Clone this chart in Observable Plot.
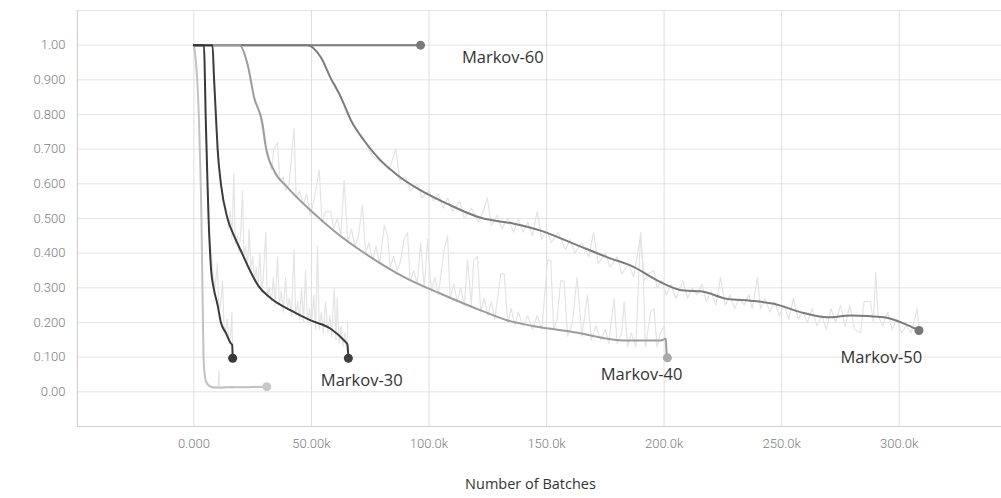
<!DOCTYPE html>
<html>
<head>
<meta charset="utf-8">
<script src="https://cdn.jsdelivr.net/npm/d3@7"></script>
<script src="https://cdn.jsdelivr.net/npm/@observablehq/plot@0.6"></script>
<style>
  html, body { margin: 0; padding: 0; background: #fff; }
</style>
</head>
<body>
<div id="chart"></div>
<script>
// ---------- axis ticks (x in thousands of batches) ----------
const xTicks = [0, 50, 100, 150, 200, 250, 300];
const xTickLabels = ["0.000", "50.00k", "100.0k", "150.0k", "200.0k", "250.0k", "300.0k"];
const yTicks = [0, 0.1, 0.2, 0.3, 0.4, 0.5, 0.6, 0.7, 0.8, 0.9, 1.0];
const yTickLabels = ["0.00", "0.100", "0.200", "0.300", "0.400", "0.500", "0.600", "0.700", "0.800", "0.900", "1.00"];
const yGrid = [-0.1, 0, 0.1, 0.2, 0.3, 0.4, 0.5, 0.6, 0.7, 0.8, 0.9, 1.0, 1.1];
const xDomain = [-49.5, 343.5];
const yDomain = [-0.1, 1.1];

// ---------- smoothed series ----------
const m10X = [0, 0.6, 1.8, 3.3, 4.1, 4.8, 5.5, 8, 12, 16, 20, 25, 31];
const m10Y = [1.0, 0.97, 0.85, 0.465, 0.10, 0.04, 0.024, 0.013, 0.012, 0.014, 0.013, 0.014, 0.015];

const m20X = [0, 4.3, 4.7, 5.0, 5.4, 5.8, 6.25, 6.9, 7.35, 8.4, 10.1, 11.5, 13.6, 15.7, 16.3, 16.5];
const m20Y = [1.0, 1.0, 0.9, 0.8, 0.7, 0.6, 0.5, 0.4, 0.35, 0.3, 0.25, 0.2, 0.17, 0.14, 0.135, 0.097];

const m30X = [0, 7.9, 8.6, 9.35, 10.1, 11.5, 14.3, 17.1, 20.8, 24.2, 27.5, 32.7, 41.2, 49.7, 58.2, 63.9, 65.3, 65.7];
const m30Y = [1.0, 1.0, 0.9, 0.8, 0.7, 0.6, 0.5, 0.45, 0.395, 0.345, 0.305, 0.27, 0.235, 0.206, 0.182, 0.148, 0.137, 0.097];

const m40X = [0, 19.3, 22.8, 25.6, 29.2, 30.6, 34.1, 39.8, 49.7, 61.1, 75.3, 89.4, 105, 122, 133.4, 147.5, 161.7, 183, 198.6, 200.7, 201.1, 201.4];
const m40Y = [1.0, 1.0, 0.946, 0.85, 0.773, 0.706, 0.638, 0.59, 0.523, 0.456, 0.388, 0.331, 0.283, 0.235, 0.206, 0.186, 0.172, 0.148, 0.148, 0.153, 0.11, 0.098];

const m50X = [0, 48.3, 54, 58.2, 62.5, 66.8, 72.4, 78.1, 86.6, 96.5, 107.9, 122, 136.2, 147.5, 161.7, 175.9, 187.2, 197.2, 208.5, 215.6, 226.9, 236.7, 246.7, 257.9, 269.4, 279.3, 293.5, 304, 308.4];
const m50Y = [1.0, 1.0, 0.965, 0.905, 0.85, 0.783, 0.725, 0.677, 0.625, 0.581, 0.542, 0.502, 0.485, 0.465, 0.427, 0.388, 0.36, 0.321, 0.292, 0.29, 0.268, 0.263, 0.254, 0.23, 0.215, 0.22, 0.215, 0.191, 0.177];

const m60X = [0, 96.4];
const m60Y = [1.0, 1.0];

// ---------- raw (unsmoothed) series ----------
const r10X = [5.5, 7, 8.5, 10.2, 10.6, 11, 13, 16, 19, 22, 25, 28, 31];
const r10Y = [0.03, 0.015, 0.01, 0.012, 0.06, 0.011, 0.016, 0.01, 0.015, 0.012, 0.016, 0.012, 0.015];

const r20X = [6.5, 7.5, 8.2, 9.0, 10.0, 10.5, 11.2, 12.2, 12.8, 13.5, 14.2, 15.0, 15.6, 16.2, 16.4];
const r20Y = [0.45, 0.40, 0.34, 0.30, 0.37, 0.26, 0.24, 0.32, 0.19, 0.18, 0.21, 0.14, 0.16, 0.23, 0.12];

const r30X = [14.5, 15.5, 16.2, 17.0, 17.6, 18.5, 19.2, 20.0, 20.7, 21.3, 22.0, 22.8, 23.5, 24.2, 25.0, 25.8, 26.5, 27.3, 28.0, 28.8, 29.5, 30.6, 31.2, 32.0, 33.0, 33.8, 34.6, 35.6, 36.3, 37.2, 38.0, 39.0, 39.8, 40.6, 41.5, 42.6, 43.3, 44.2, 45.0, 45.8, 46.6, 47.5, 48.3, 49.2, 50.0, 51.0, 51.8, 52.6, 53.3, 54.2, 55.0, 56.0, 57.0, 57.8, 58.6, 59.7, 60.4, 61.0, 61.8, 62.6, 63.4, 64.2, 65.0, 65.5];
const r30Y = [0.47, 0.52, 0.44, 0.63, 0.43, 0.45, 0.40, 0.47, 0.58, 0.38, 0.42, 0.36, 0.47, 0.35, 0.39, 0.32, 0.36, 0.30, 0.40, 0.29, 0.33, 0.46, 0.27, 0.30, 0.26, 0.33, 0.25, 0.39, 0.25, 0.29, 0.23, 0.33, 0.24, 0.27, 0.22, 0.41, 0.22, 0.26, 0.21, 0.30, 0.20, 0.35, 0.20, 0.24, 0.19, 0.28, 0.18, 0.42, 0.18, 0.23, 0.17, 0.26, 0.17, 0.22, 0.16, 0.30, 0.15, 0.27, 0.14, 0.19, 0.13, 0.17, 0.12, 0.20];

const r40X = [28, 30, 31.5, 33, 34, 35.6, 36.5, 38, 39, 40.5, 42.6, 43.5, 45, 46.5, 48, 49.5, 51, 53.3, 54.5, 56, 58.2, 59.5, 61, 62.5, 63.9, 65.5, 67, 68.5, 70, 71.7, 73, 74.5, 76, 77.5, 79, 81, 82.4, 83.5, 85, 86.5, 88, 89.4, 90.9, 92, 93.5, 95, 96.5, 98, 99.4, 101, 102.5, 104, 106.4, 107.9, 109, 110.5, 112, 113.5, 115, 116.4, 118, 119, 120.6, 122, 123.5, 125, 126.5, 128, 130.5, 132, 133.5, 135, 136.5, 138, 140, 142, 144, 146, 148, 150.4, 151.8, 153, 154.5, 156, 157.4, 159, 161, 163, 165, 167.4, 169, 171, 173, 175, 176.5, 178.7, 180, 182, 183, 184.5, 186, 188, 190, 191, 192, 194.3, 195.7, 197, 198.5, 200, 200.8];
const r40Y = [0.80, 0.72, 0.69, 0.64, 0.70, 0.72, 0.61, 0.62, 0.58, 0.60, 0.76, 0.56, 0.58, 0.54, 0.57, 0.51, 0.55, 0.64, 0.49, 0.52, 0.52, 0.47, 0.50, 0.45, 0.61, 0.43, 0.47, 0.42, 0.45, 0.54, 0.40, 0.43, 0.38, 0.42, 0.37, 0.48, 0.45, 0.36, 0.39, 0.35, 0.38, 0.44, 0.46, 0.32, 0.35, 0.31, 0.43, 0.30, 0.44, 0.29, 0.33, 0.28, 0.41, 0.45, 0.27, 0.31, 0.26, 0.30, 0.25, 0.38, 0.25, 0.38, 0.39, 0.23, 0.27, 0.22, 0.26, 0.21, 0.34, 0.34, 0.20, 0.24, 0.19, 0.23, 0.19, 0.22, 0.18, 0.22, 0.18, 0.38, 0.38, 0.18, 0.21, 0.32, 0.32, 0.16, 0.20, 0.33, 0.16, 0.28, 0.15, 0.19, 0.15, 0.18, 0.14, 0.27, 0.14, 0.17, 0.26, 0.13, 0.17, 0.13, 0.46, 0.36, 0.13, 0.23, 0.24, 0.13, 0.17, 0.19, 0.12];

const r50X = [60, 64, 68, 72, 76, 80, 83, 85.9, 87.5, 90, 92, 95, 97, 100, 102, 104, 106, 108, 110, 113, 115, 118, 121, 123, 124.8, 126.5, 129, 131, 133.5, 136, 138, 140, 142, 144, 146, 148, 150, 152, 155, 158, 160, 162, 165, 168, 170, 172, 175, 177, 180, 182, 185, 187, 190, 191.5, 193, 195.7, 197, 199, 201, 203, 205, 208, 210, 212, 214, 216, 218, 220, 222, 224, 226, 228, 230, 232, 234, 236, 237.5, 239.7, 241, 243, 245, 247, 249, 251, 253, 255, 257, 259, 261, 263, 265, 267, 269, 271, 273, 275, 277, 279, 281, 283.6, 285, 287.8, 289, 290, 291, 293, 295, 297, 299, 301, 303, 305, 307.7, 308.4];
const r50Y = [0.89, 0.83, 0.77, 0.73, 0.68, 0.66, 0.64, 0.70, 0.61, 0.62, 0.58, 0.60, 0.56, 0.58, 0.55, 0.57, 0.53, 0.56, 0.52, 0.55, 0.50, 0.53, 0.49, 0.52, 0.56, 0.48, 0.51, 0.47, 0.50, 0.46, 0.50, 0.46, 0.49, 0.45, 0.52, 0.44, 0.47, 0.43, 0.46, 0.41, 0.44, 0.40, 0.43, 0.39, 0.46, 0.37, 0.40, 0.36, 0.39, 0.34, 0.37, 0.33, 0.45, 0.32, 0.34, 0.35, 0.30, 0.32, 0.28, 0.31, 0.27, 0.32, 0.27, 0.30, 0.28, 0.31, 0.26, 0.29, 0.25, 0.33, 0.25, 0.28, 0.24, 0.27, 0.25, 0.28, 0.24, 0.33, 0.24, 0.27, 0.23, 0.26, 0.22, 0.25, 0.21, 0.27, 0.21, 0.23, 0.20, 0.24, 0.19, 0.22, 0.18, 0.24, 0.20, 0.25, 0.19, 0.25, 0.18, 0.17, 0.26, 0.26, 0.20, 0.345, 0.22, 0.19, 0.23, 0.18, 0.21, 0.17, 0.19, 0.17, 0.24, 0.18];

// ---------- annotations ----------
const labelNames = ["Markov-60", "Markov-30", "Markov-40", "Markov-50"];
const labelX = [114, 54, 173, 275];
const labelY = [0.964, 0.033, 0.05, 0.099];
const xTitle = "Number of Batches";

// ---------- build tables ----------
const pts = (xs, ys) => xs.map((x, i) => ({x, y: ys[i]}));
const smooth = [
  {data: pts(m10X, m10Y), stroke: "#c2c2c2", dot: "#c8c8c8", w: 2},
  {data: pts(m60X, m60Y), stroke: "#7a7a7a", dot: "#7a7a7a", w: 2},
  {data: pts(m50X, m50Y), stroke: "#7b7b7b", dot: "#777777", w: 2},
  {data: pts(m40X, m40Y), stroke: "#9c9c9c", dot: "#a9a9a9", w: 2},
  {data: pts(m30X, m30Y), stroke: "#3c3c3c", dot: "#404040", w: 2},
  {data: pts(m20X, m20Y), stroke: "#393939", dot: "#383838", w: 2}
];
const raw = [pts(r10X, r10Y), pts(r20X, r20Y), pts(r30X, r30Y), pts(r40X, r40Y), pts(r50X, r50Y)];
const labels = labelNames.map((t, i) => ({t, x: labelX[i], y: labelY[i]}));

const tickFont = "Roboto, 'Liberation Sans', sans-serif";
const labelFont = "'Open Sans', 'Liberation Sans', sans-serif";

const marks = [
  Plot.gridY({ticks: yGrid, stroke: "#e3e3e3", strokeOpacity: 1, strokeWidth: 1}),
  Plot.gridX({ticks: xTicks, stroke: "#dedede", strokeOpacity: 1, strokeWidth: 1}),
  Plot.ruleX([xDomain[0]], {stroke: "#d0d0d0", strokeWidth: 1.2}),
  Plot.ruleY([yDomain[0]], {stroke: "#d0d0d0", strokeWidth: 1.2}),
  Plot.axisY({ticks: yTicks, tickFormat: d => yTickLabels[yTicks.indexOf(d)], tickSize: 0, tickPadding: 12,
              fontSize: 13, fontWeight: 300, fill: "#7d7d7d", fontFamily: tickFont, label: null}),
  Plot.axisX({ticks: xTicks, tickFormat: d => xTickLabels[xTicks.indexOf(d)], tickSize: 0, tickPadding: 12,
              fontSize: 13, fontWeight: 300, fill: "#7d7d7d", fontFamily: tickFont, label: null})
];
for (const r of raw) {
  marks.push(Plot.line(r, {x: "x", y: "y", stroke: "#e4e4e4", strokeWidth: 1.2}));
}
for (const s of smooth) {
  marks.push(Plot.line(s.data, {x: "x", y: "y", stroke: s.stroke, strokeWidth: s.w, curve: "monotone-x"}));
}
for (const s of smooth) {
  const last = s.data[s.data.length - 1];
  marks.push(Plot.dot([last], {x: "x", y: "y", r: 4.5, fill: s.dot, stroke: "none"}));
}
marks.push(Plot.text(labels, {x: "x", y: "y", text: "t", textAnchor: "start", lineAnchor: "middle",
  fontSize: 16.5, fontFamily: labelFont, fill: "#333"}));
marks.push(Plot.text([xTitle], {frameAnchor: "bottom", dy: 58, dx: -9, lineAnchor: "middle",
  fontSize: 14.5, fontFamily: labelFont, fill: "#333"}));

const chart = Plot.plot({
  width: 1001,
  height: 498,
  marginLeft: 77,
  marginRight: 0,
  marginTop: 10,
  marginBottom: 72,
  style: {background: "#fff", fontFamily: tickFont, overflow: "visible"},
  x: {domain: xDomain, label: null},
  y: {domain: yDomain, label: null},
  marks
});
document.getElementById("chart").appendChild(chart);
</script>
</body>
</html>
